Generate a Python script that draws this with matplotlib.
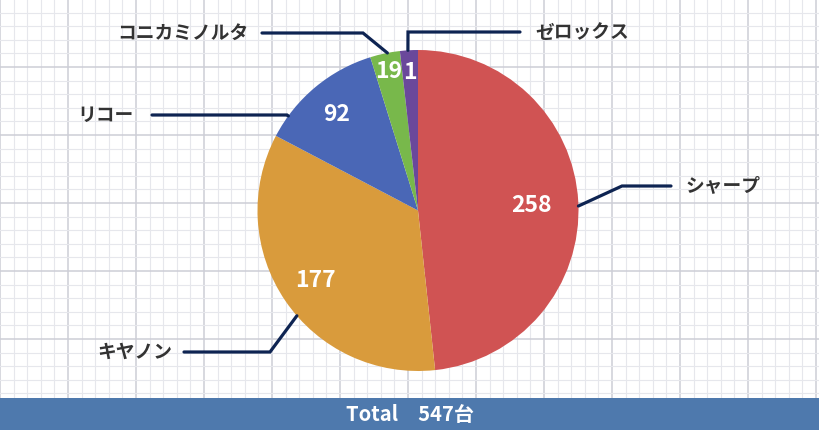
import numpy as np
import matplotlib
matplotlib.use("Agg")
import matplotlib.pyplot as plt
from matplotlib.patches import Rectangle

plt.rcParams['font.family'] = ['Noto Sans CJK JP', 'DejaVu Sans']

# ---- data ----
categories = ["シャープ", "キヤノン", "リコー", "コニカミノルタ", "ゼロックス"]
values = [258, 177, 92, 19, 1]
# slice sizes as drawn in the picture (percent of the circle)
shares = [48.3, 34.4, 12.5, 3.0, 1.8]
total_label = "Total　547台"

# ---- style ----
colors = ["#d05353", "#d99b3c", "#4a67b6", "#78b84b", "#6a489b"]
W, H = 820, 431
def Y(py):
    return H - py

fig = plt.figure(figsize=(W / 100, H / 100), dpi=100)
ax = fig.add_axes([0, 0, 1, 1])

bar_top = 399
# grid background
minor = 13.6
for i in range(0, 61):
    x = i * minor
    major = (i % 5 == 0)
    ax.plot([x, x], [Y(bar_top), H], color="#cdced6" if major else "#e6e7ec",
            lw=1.1 if major else 0.8, zorder=0)
for i in range(0, 31):
    y = i * minor
    if y > bar_top:
        break
    major = (i % 5 == 0)
    ax.plot([0, W], [Y(y), Y(y)], color="#cdced6" if major else "#e6e7ec",
            lw=1.1 if major else 0.8, zorder=0)

cx, cy, R = 418, Y(211.5), 160.5
wedges, _ = ax.pie(shares, colors=colors, startangle=90, counterclock=False,
                   center=(cx, cy), radius=R, frame=True,
                   wedgeprops=dict(linewidth=0, zorder=2))
ax.set_xlim(0, W)
ax.set_ylim(0, H)
ax.set_aspect('equal')
ax.set_axis_off()

# value labels
label_r = [0.71, 0.77, 0.79, 0.89, 0.87]
for w, v, fr in zip(wedges, values, label_r):
    th = np.deg2rad((w.theta1 + w.theta2) / 2)
    ax.text(cx + fr * R * np.cos(th), cy + fr * R * np.sin(th), str(v),
            ha="center", va="center", color="white", fontsize=16.5,
            fontweight="bold", zorder=5)

# leader lines (anchor angle on circle, elbow, end, text side)
line_col = "#0e2452"
leaders = [
    dict(ang=1.6, elbow=(622, 187), end=(671, 187), tx=685, ha="left"),
    dict(ang=-139, elbow=(270, 353), end=(184, 353), tx=172, ha="right"),
    dict(ang=143.9, elbow=(287, 116), end=(152, 116), tx=134, ha="right"),
    dict(ang=101, elbow=(363, 34), end=(262, 34), tx=249, ha="right"),
    dict(ang=93.6, elbow=(408, 33), end=(520, 33), tx=535, ha="left"),
]
for cat, L in zip(categories, leaders):
    th = np.deg2rad(L["ang"])
    ax0, ay0 = cx + R * np.cos(th), cy + R * np.sin(th)
    xs = [ax0, L["elbow"][0], L["end"][0]]
    ys = [ay0, Y(L["elbow"][1]), Y(L["end"][1])]
    ax.plot(xs, ys, color=line_col, lw=2.3, solid_capstyle="round",
            solid_joinstyle="miter", zorder=3)
    ax.text(L["tx"], Y(L["end"][1]) + 1, cat, ha=L["ha"], va="center",
            fontsize=13.5, fontweight="bold", color="#333333", zorder=5)

# bottom bar
ax.add_patch(Rectangle((0, 0), W, H - bar_top, facecolor="#4e79ad",
                       edgecolor="none", zorder=4))
ax.text(410, (H - bar_top) / 2, total_label, ha="center", va="center",
        color="white", fontsize=14.5, fontweight="bold", zorder=5)

fig.savefig("out.png", dpi=100)
